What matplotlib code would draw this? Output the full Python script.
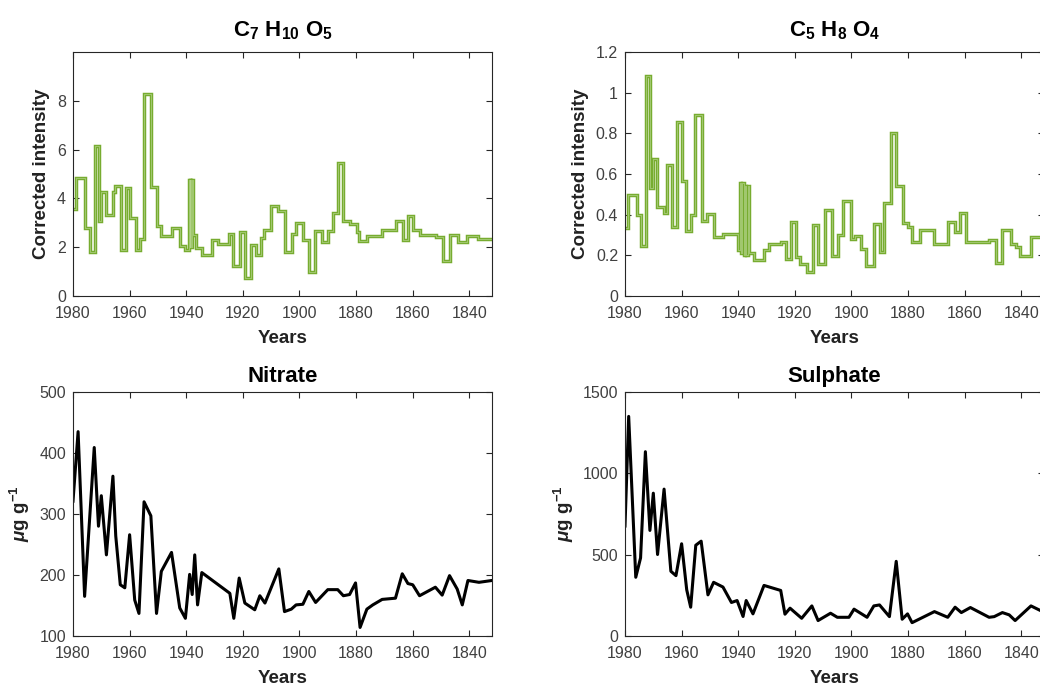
import matplotlib
matplotlib.use('Agg')
import matplotlib.pyplot as plt
import numpy as np

plt.rcParams['font.family'] = ['Liberation Sans', 'DejaVu Sans']
plt.rcParams['mathtext.fontset'] = 'custom'
plt.rcParams['mathtext.rm'] = 'Liberation Sans'
plt.rcParams['mathtext.bf'] = 'Liberation Sans:bold'
plt.rcParams['mathtext.it'] = 'Liberation Sans:italic:bold'

# C7 H10 O5 (stairs: value holds from year to next year)
c7_years = [1980.0, 1979.0, 1975.9, 1974.1, 1972.3, 1970.9, 1970.2, 1968.5, 1965.9, 1965.0,
            1962.9, 1961.4, 1960.0, 1957.6, 1956.4, 1954.9, 1952.5, 1950.5, 1948.8, 1945.2,
            1942.3, 1940.5, 1939.1, 1938.8, 1938.5, 1938.2, 1937.9, 1937.6, 1936.4, 1934.6,
            1930.9, 1928.7, 1924.9, 1923.4, 1921.1, 1919.3, 1917.3, 1915.5, 1913.7, 1912.5,
            1909.9, 1907.5, 1905.2, 1902.5, 1901.3, 1898.7, 1896.7, 1894.6, 1892.2, 1889.9,
            1888.3, 1886.3, 1884.5, 1882.2, 1879.8, 1878.9, 1876.3, 1871.0, 1865.9, 1863.3,
            1861.6, 1860.0, 1857.5, 1851.8, 1849.2, 1846.8, 1844.1, 1840.9, 1837.0, 1832.0]
c7_vals = [3.57, 4.84, 2.78, 1.82, 6.15, 3.06, 4.25, 3.33, 4.25, 4.50,
           1.89, 4.43, 3.20, 1.89, 2.33, 8.27, 4.46, 2.85, 2.44, 2.78,
           2.03, 1.87, 4.77, 2.00, 4.77, 2.00, 4.77, 2.52, 1.96, 1.69,
           2.30, 2.12, 2.56, 1.24, 2.61, 0.73, 2.09, 1.69, 2.36, 2.71,
           3.67, 3.50, 1.82, 2.56, 3.00, 2.30, 0.97, 2.68, 2.22, 2.67,
           3.39, 5.46, 3.06, 2.96, 2.62, 2.24, 2.44, 2.72, 3.06, 2.28,
           3.26, 2.69, 2.51, 2.41, 1.45, 2.51, 2.21, 2.44, 2.33, 2.33]

# C5 H8 O4 (stairs)
c5_years = [1980.0, 1978.8, 1975.9, 1974.5, 1972.6, 1971.0, 1970.0, 1968.6, 1966.3, 1965.3,
            1963.4, 1961.7, 1959.8, 1958.4, 1956.6, 1955.1, 1952.9, 1951.1, 1948.6, 1945.4,
            1940.0, 1939.4, 1938.9, 1938.5, 1938.1, 1937.6, 1937.1, 1936.7, 1936.1, 1934.5,
            1930.9, 1929.1, 1925.0, 1923.2, 1921.4, 1919.6, 1918.1, 1915.7, 1913.7, 1911.9,
            1909.5, 1906.9, 1904.8, 1903.1, 1900.3, 1898.9, 1896.5, 1894.7, 1892.0, 1890.0,
            1888.6, 1886.1, 1884.2, 1881.9, 1880.0, 1878.8, 1875.8, 1870.7, 1866.0, 1863.4,
            1861.6, 1859.4, 1851.4, 1849.1, 1846.7, 1843.7, 1842.0, 1840.5, 1836.6, 1832.0]
c5_vals = [0.335, 0.495, 0.396, 0.247, 1.08, 0.53, 0.676, 0.438, 0.41, 0.643,
           0.338, 0.854, 0.565, 0.32, 0.396, 0.89, 0.37, 0.405, 0.29, 0.306,
           0.228, 0.554, 0.21, 0.554, 0.20, 0.54, 0.20, 0.54, 0.21, 0.178,
           0.224, 0.255, 0.265, 0.181, 0.363, 0.194, 0.157, 0.12, 0.348, 0.157,
           0.425, 0.198, 0.302, 0.466, 0.28, 0.297, 0.231, 0.15, 0.354, 0.214,
           0.455, 0.80, 0.54, 0.36, 0.34, 0.265, 0.327, 0.258, 0.362, 0.313,
           0.41, 0.268, 0.277, 0.16, 0.327, 0.258, 0.24, 0.195, 0.29, 0.29]

# Nitrate (line)
no3_years = [1980.0, 1978.2, 1975.9, 1972.5, 1971.0, 1970.0, 1968.2, 1965.9, 1964.9, 1963.3,
             1961.7, 1960.0, 1958.2, 1956.7, 1954.9, 1952.5, 1950.5, 1948.8, 1945.2, 1942.3,
             1940.3, 1938.8, 1937.9, 1937.0, 1936.0, 1934.5, 1924.6, 1923.2, 1921.3, 1919.3,
             1915.8, 1914.0, 1912.2, 1907.3, 1905.3, 1902.9, 1901.2, 1898.8, 1896.7, 1894.3,
             1890.0, 1886.5, 1884.5, 1882.3, 1880.2, 1878.6, 1876.2, 1874.1, 1870.8, 1866.1,
             1863.7, 1861.7, 1860.0, 1857.6, 1852.0, 1849.6, 1847.0, 1844.3, 1842.5, 1840.5,
             1836.6, 1832.0]
no3_vals = [321, 435, 165, 409, 280, 330, 233, 362, 264, 184,
            179, 266, 159, 137, 320, 297, 137, 206, 237, 146,
            129, 201, 168, 233, 151, 204, 170, 129, 195, 154,
            143, 166, 154, 210, 140, 144, 151, 152, 173, 155,
            176, 176, 166, 168, 187, 114, 144, 151, 160, 162,
            202, 186, 184, 166, 180, 167, 199, 177, 151, 191,
            188, 191]

# Sulphate (line)
so4_years = [1980.0, 1978.7, 1976.2, 1974.5, 1972.8, 1971.2, 1970.0, 1968.5, 1966.2, 1963.8,
             1962.0, 1960.0, 1958.2, 1956.8, 1955.0, 1953.1, 1950.7, 1948.7, 1945.4, 1942.4,
             1940.4, 1938.3, 1937.2, 1934.8, 1930.9, 1925.0, 1923.5, 1921.7, 1917.6, 1914.0,
             1911.8, 1907.4, 1905.0, 1900.9, 1899.1, 1894.5, 1892.1, 1890.1, 1886.6, 1884.2,
             1882.1, 1880.2, 1878.6, 1870.7, 1866.0, 1863.4, 1861.2, 1858.0, 1851.4, 1849.6,
             1846.7, 1844.3, 1842.2, 1836.6, 1832.5]
so4_vals = [676, 1350, 361, 480, 1133, 649, 878, 501, 903, 398,
            371, 567, 284, 177, 558, 583, 253, 330, 301, 206,
            218, 120, 218, 136, 311, 280, 134, 171, 109, 185,
            95, 140, 115, 115, 165, 115, 185, 191, 119, 459,
            103, 136, 82, 150, 115, 177, 144, 175, 115, 119,
            144, 130, 95, 185, 150]

GREEN = '#77ac30'
TXT = '#404040'

fig = plt.figure(figsize=(10.4, 6.87), dpi=100)
left_x, right_x, w = 73 / 1040, 625 / 1040, 419 / 1040
top_y, bot_y, h = 1 - 296 / 687, 1 - 636 / 687, 244 / 687

panels = [
    (left_x, top_y, 'C$_{\\mathbf{7}}$ H$_{\\mathbf{10}}$ O$_{\\mathbf{5}}$', 'Corrected intensity', 11),
    (right_x, top_y, 'C$_{\\mathbf{5}}$ H$_{\\mathbf{8}}$ O$_{\\mathbf{4}}$', 'Corrected intensity', 11),
    (left_x, bot_y, 'Nitrate', r'$\mu$g g$^{\mathbf{-1}}$', 7),
    (right_x, bot_y, 'Sulphate', r'$\mu$g g$^{\mathbf{-1}}$', 7),
]
axes = []
for x0, y0, title, ylab, tpad in panels:
    ax = fig.add_axes([x0, y0, w, h])
    ax.set_title(title, fontsize=16, fontweight='bold', pad=tpad)
    ax.set_ylabel(ylab, fontsize=13.5, fontweight='bold', color='#222222', labelpad=5)
    ax.set_xlabel('Years', fontsize=13.5, fontweight='bold', color='#222222', labelpad=7)
    ax.set_xlim(1980, 1832)
    ax.set_xticks(np.arange(1980, 1839, -20))
    ax.tick_params(direction='in', length=4, width=0.8, top=True, right=True,
                   labelsize=11.5, colors='#262626', labelcolor=TXT)
    ax.tick_params(axis='x', pad=7)
    ax.tick_params(axis='y', pad=5)
    for s in ax.spines.values():
        s.set_color('#262626')
        s.set_linewidth(0.8)
    axes.append(ax)

ax1, ax2, ax3, ax4 = axes

# stairs panels, thick green with a faint lighter core
for ax, yrs, vals in [(ax1, c7_years, c7_vals), (ax2, c5_years, c5_vals)]:
    ax.step(yrs, vals, where='post', color=GREEN, lw=2.5, solid_joinstyle='miter')
    ax.step(yrs, vals, where='post', color='#b3d38a', lw=0.5)

ax1.set_ylim(0, 10)
ax1.set_yticks([0, 2, 4, 6, 8])
ax2.set_ylim(0, 1.2)
ax2.set_yticks([0, 0.2, 0.4, 0.6, 0.8, 1.0, 1.2])
ax2.set_yticklabels(['0', '0.2', '0.4', '0.6', '0.8', '1', '1.2'])

ax3.plot(no3_years, no3_vals, color='black', lw=2.2)
ax3.set_ylim(100, 500)
ax3.set_yticks([100, 200, 300, 400, 500])

ax4.plot(so4_years, so4_vals, color='black', lw=2.2)
ax4.set_ylim(0, 1500)
ax4.set_yticks([0, 500, 1000, 1500])

fig.savefig('out.png', dpi=100)
